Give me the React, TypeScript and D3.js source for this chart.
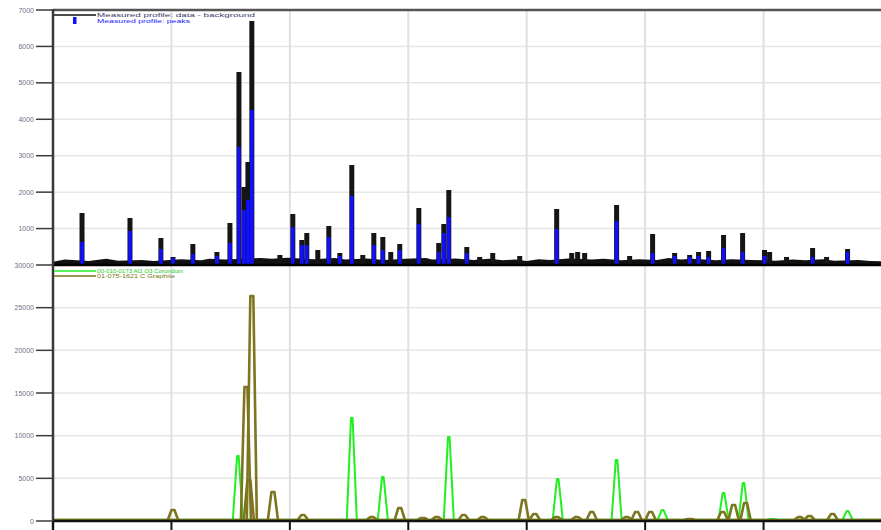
import React from 'react';
import * as d3 from 'd3';

// ---------- data ----------
const xTicks = [10, 20, 30, 40, 50, 60, 70, 80];
const topYTicks = [1000, 2000, 3000, 4000, 5000, 6000, 7000];
const bottomYTicks = [0, 5000, 10000, 15000, 20000, 25000, 30000];

// measured profile (data - background), stick positions (2theta) and counts
const measuredPos = [12.45, 16.5, 19.11, 20.13, 21.81, 23.84, 24.94, 25.7, 26.12, 26.46, 26.79, 29.16, 30.25, 31.01, 31.43, 32.36, 33.29, 34.22, 35.23, 36.16, 37.09, 37.85, 38.52, 39.28, 40.89, 42.57, 43.0, 43.42, 44.94, 46.03, 47.13, 49.41, 52.53, 53.8, 54.3, 54.89, 57.59, 58.69, 60.63, 62.49, 63.76, 64.51, 65.36, 66.62, 68.23, 70.08, 70.51, 71.94, 74.14, 75.32, 77.09];
const measuredCounts = [1427, 1290, 741, 220, 576, 357, 1153, 5298, 2141, 2827, 6698, 275, 1400, 686, 878, 412, 1071, 329, 2745, 275, 878, 769, 357, 576, 1565, 604, 1125, 2059, 494, 220, 329, 247, 1537, 329, 357, 329, 1647, 247, 851, 329, 275, 357, 384, 824, 878, 412, 357, 220, 467, 220, 439];

// measured profile: fitted peaks
const peakPos = [12.45, 16.5, 19.11, 20.13, 21.81, 23.84, 24.94, 25.7, 26.12, 26.46, 26.79, 30.25, 31.01, 31.43, 33.29, 34.22, 35.23, 37.09, 37.85, 39.28, 40.89, 42.57, 43.0, 43.42, 44.94, 52.53, 57.59, 60.63, 62.49, 63.76, 64.51, 65.36, 66.62, 68.23, 70.08, 74.14, 77.09];
const peakCounts = [631, 933, 439, 192, 302, 247, 604, 3239, 1510, 1784, 4255, 1043, 549, 549, 769, 247, 1894, 549, 412, 412, 1125, 357, 878, 1318, 329, 988, 1208, 329, 247, 220, 247, 220, 467, 357, 247, 220, 357];

// residual ground level of the measured profile
const groundPos = [10, 11, 12, 13, 14.5, 15.5, 17.5, 18.5, 20.8, 22.5, 23.2, 24.5, 27.5, 28.5, 29.8, 32, 33.8, 34.7, 36.5, 38, 39.8, 41.5, 42, 44, 45.5, 46.8, 48, 49, 50, 51, 52, 53.5, 55.5, 56.5, 58, 59.5, 61, 62, 63, 64, 66, 67.3, 69, 71, 72.5, 73.5, 75, 76, 78, 79, 80];
const groundCounts = [90, 150, 130, 110, 170, 120, 140, 110, 160, 130, 170, 150, 190, 170, 200, 160, 190, 150, 180, 140, 170, 190, 150, 180, 140, 170, 130, 150, 110, 160, 140, 180, 150, 170, 130, 160, 140, 190, 150, 170, 130, 160, 140, 120, 150, 130, 160, 120, 140, 110, 100];

// reference patterns
const greenPos = [25.61, 35.23, 37.85, 43.42, 52.62, 57.59, 61.48, 66.62, 68.31, 70.76, 77.09];
const greenCounts = [7620, 12070, 5160, 9840, 4920, 7150, 1290, 3280, 4450, 230, 1170];
const olivePos = [20.13, 26.29, 26.54, 26.79, 28.57, 31.1, 36.92, 39.28, 41.22, 42.41, 44.68, 46.29, 49.75, 50.68, 52.53, 54.22, 55.49, 58.44, 59.28, 60.46, 63.76, 66.54, 67.47, 68.48, 73.04, 73.88, 75.82];
const oliveCounts = [1290, 15700, 4800, 26370, 3400, 700, 470, 1520, 350, 470, 700, 470, 2460, 820, 470, 470, 1050, 470, 1050, 1050, 230, 1050, 1880, 2110, 470, 590, 820];

const legendTop = ['Measured profile: data - background', 'Measured profile: peaks'];
const legendBottom = ['00-010-0173 Al2 O3 Corundum', '01-075-1621 C Graphite'];

// ---------- chart ----------
const W = 881;
const H = 530;

export default function App() {
  const x = d3.scaleLinear().domain([10, 80]).range([53, 882]);
  const yTop = d3.scaleLinear().domain([0, 7000]).range([265, 10]);
  const yBot = d3.scaleLinear().domain([0, 30000]).range([521, 265]);

  const groundArea = d3
    .area<number>()
    .x((_, i) => x(groundPos[i]))
    .y0(yTop(0))
    .y1((d) => yTop(d));

  const peakPath = (p: number, c: number, y: d3.ScaleLinear<number, number>, base: number, top: number) => {
    const cx = x(p);
    const line = d3.line<[number, number]>();
    return line([
      [cx - 5, base],
      [cx - top, y(c)],
      [cx + top, y(c)],
      [cx + 5, base],
    ]) as string;
  };

  const gridColor = '#e6e6e6';
  const axisColor = '#3a3a3a';
  const labelFont = 'Liberation Sans, Arial, sans-serif';

  return (
    <svg
      width={W}
      height={H}
      style={{ position: 'absolute', left: 0, top: 0, background: '#fff' }}
      fontFamily={labelFont}
    >
      <rect x={0} y={0} width={W} height={H} fill="#fff" />

      {/* gridlines */}
      {topYTicks.map((t) => (
        <line key={'gt' + t} x1={53} x2={W} y1={yTop(t)} y2={yTop(t)} stroke={gridColor} strokeWidth={1.5} />
      ))}
      {bottomYTicks.slice(1, -1).map((t) => (
        <line key={'gb' + t} x1={53} x2={W} y1={yBot(t)} y2={yBot(t)} stroke={gridColor} strokeWidth={1.5} />
      ))}
      {xTicks.slice(1, -1).map((t) => (
        <line key={'gx' + t} x1={x(t)} x2={x(t)} y1={10} y2={521} stroke="#e0e0e0" strokeWidth={2} />
      ))}

      {/* top panel: measured profile */}
      <path d={groundArea(groundCounts) as string} fill="#111" />
      {measuredPos.map((p, i) => (
        <rect
          key={'m' + i}
          x={x(p) - 2.5}
          y={yTop(measuredCounts[i])}
          width={5}
          height={yTop(0) - yTop(measuredCounts[i])}
          fill="#151515"
        />
      ))}
      {peakPos.map((p, i) => (
        <rect
          key={'p' + i}
          x={x(p) - 1.8}
          y={yTop(peakCounts[i])}
          width={3.6}
          height={yTop(0) - yTop(peakCounts[i])}
          fill="#1010ff"
        />
      ))}
      <line x1={53} x2={W} y1={265} y2={265} stroke="#000" strokeWidth={2.5} />

      {/* bottom panel: reference patterns */}
      <line x1={53} x2={W} y1={yBot(0) - 1.5} y2={yBot(0) - 1.5} stroke="#20e020" strokeWidth={1.5} />
      {greenPos.map((p, i) => (
        <path
          key={'g' + i}
          d={peakPath(p, greenCounts[i], yBot, yBot(0) - 1.5, 0.8)}
          fill="none"
          stroke="#22ee22"
          strokeWidth={2}
          strokeLinejoin="round"
        />
      ))}
      <line x1={53} x2={W} y1={yBot(0) - 1.5} y2={yBot(0) - 1.5} stroke="#7d7520" strokeWidth={1.5} />
      {olivePos.map((p, i) => (
        <path
          key={'o' + i}
          d={peakPath(p, oliveCounts[i], yBot, yBot(0) - 1.5, 1.5)}
          fill="none"
          stroke="#7d7520"
          strokeWidth={2.6}
          strokeLinejoin="round"
        />
      ))}

      {/* frame / axes */}
      <line x1={53} x2={W} y1={10} y2={10} stroke="#555" strokeWidth={2.5} />
      <line x1={53} x2={W} y1={521} y2={521} stroke="#111" strokeWidth={2.5} />
      <line x1={53} x2={53} y1={9} y2={H} stroke={axisColor} strokeWidth={2.5} />
      {xTicks.map((t) => (
        <line key={'xt' + t} x1={x(t)} x2={x(t)} y1={521} y2={H} stroke="#111" strokeWidth={2} />
      ))}

      {/* y ticks and labels */}
      {topYTicks.map((t) => (
        <g key={'yt' + t}>
          <line x1={36} x2={53} y1={yTop(t)} y2={yTop(t)} stroke={axisColor} strokeWidth={1.5} />
          <text x={34} y={yTop(t) + 2.5} textAnchor="end" fontSize={7} fill="#707088">
            {t}
          </text>
        </g>
      ))}
      {bottomYTicks.map((t) => (
        <g key={'yb' + t}>
          <line x1={36} x2={53} y1={yBot(t)} y2={yBot(t)} stroke={axisColor} strokeWidth={1.5} />
          <text x={34} y={yBot(t) + 2.5} textAnchor="end" fontSize={7} fill="#707088">
            {t}
          </text>
        </g>
      ))}

      {/* legends */}
      <line x1={54} x2={96} y1={15} y2={15} stroke="#111" strokeWidth={1.5} />
      <text x={97} y={17} fontSize={5.5} fill="#3a3a66" textLength={158} lengthAdjust="spacingAndGlyphs">
        {legendTop[0]}
      </text>
      <rect x={73} y={17} width={3.5} height={7} fill="#1010ff" />
      <text x={97} y={23} fontSize={5.5} fill="#2020ff" textLength={93} lengthAdjust="spacingAndGlyphs">
        {legendTop[1]}
      </text>

      <line x1={54} x2={96} y1={271} y2={271} stroke="#22ee22" strokeWidth={1.5} />
      <text x={97} y={273} fontSize={5.5} fill="#22cc22" textLength={86} lengthAdjust="spacingAndGlyphs">
        {legendBottom[0]}
      </text>
      <line x1={54} x2={96} y1={276} y2={276} stroke="#7d7520" strokeWidth={1.5} />
      <text x={97} y={278} fontSize={5.5} fill="#7d7520" textLength={78} lengthAdjust="spacingAndGlyphs">
        {legendBottom[1]}
      </text>
    </svg>
  );
}
